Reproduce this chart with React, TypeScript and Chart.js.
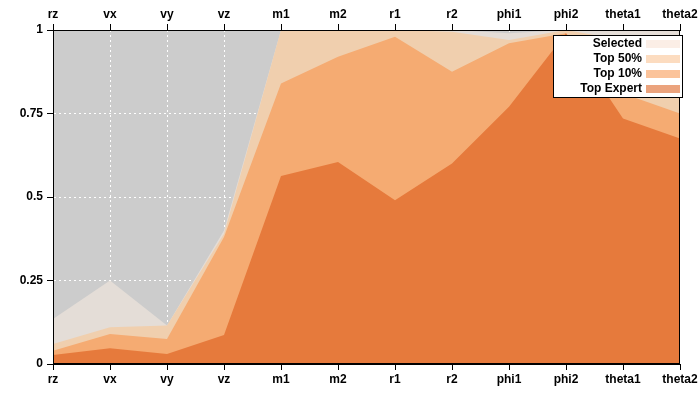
import { useEffect, useRef } from "react";
import { Chart, registerables } from "chart.js";

Chart.register(...registerables);

const categories = ["rz", "vx", "vy", "vz", "m1", "m2", "r1", "r2", "phi1", "phi2", "theta1", "theta2"];
const selected = [0.135, 0.25, 0.115, 0.4, 1, 1, 1, 1, 0.99, 1, 1, 1];
const top50 = [0.06, 0.11, 0.115, 0.39, 1, 1, 1, 0.995, 0.97, 1, 0.97, 0.94];
const top10 = [0.04, 0.09, 0.075, 0.38, 0.84, 0.92, 0.98, 0.875, 0.96, 0.99, 0.81, 0.75];
const topExpert = [0.027, 0.047, 0.03, 0.087, 0.563, 0.605, 0.49, 0.6, 0.77, 0.99, 0.735, 0.675];
const yTicks = [0, 0.25, 0.5, 0.75, 1];

const FONT = "Liberation Sans, Arial, sans-serif";

const legendItems = [
  { label: "Selected", color: "#fbeee6" },
  { label: "Top 50%", color: "#fcdcc0" },
  { label: "Top 10%", color: "#fbc39a" },
  { label: "Top Expert", color: "#eba37d" },
];

const App = () => {
  const chartRef = useRef<HTMLCanvasElement | null>(null);

  useEffect(() => {
    const ctx = chartRef.current?.getContext("2d");
    if (!ctx) return;

    const area = (label: string, data: number[], color: string) => ({
      label,
      data,
      backgroundColor: color,
      borderWidth: 0,
      pointRadius: 0,
      fill: "origin" as const,
      tension: 0,
    });

    // lower index is drawn on top, so the front-most area goes first
    const chart = new Chart(ctx, {
      type: "line",
      data: {
        labels: categories,
        datasets: [
          area("Top Expert", topExpert, "#e67a3c"),
          area("Top 10%", top10, "#f5ab72"),
          area("Top 50%", top50, "#f0cfae"),
          area("Selected", selected, "#e4ddd7"),
        ],
      },
      options: {
        animation: false,
        responsive: false,
        layout: { padding: { left: 0, right: 20, top: 0, bottom: 0 } },
        plugins: { legend: { display: false }, tooltip: { enabled: false } },
        scales: {
          x: {
            offset: false,
            grid: { color: "#ffffff", lineWidth: 1, tickColor: "#000", tickLength: 6 },
            border: { dash: [2, 3], color: "#000", width: 1 },
            ticks: { color: "#000", font: { family: FONT, weight: "bold", size: 12 }, maxRotation: 0, padding: 2 },
            afterFit: (s: any) => { s.height = 36; },
          },
          x2: {
            position: "top",
            offset: false,
            labels: categories,
            grid: { color: "rgba(0,0,0,0)", tickColor: "#000", tickLength: 6, drawOnChartArea: false },
            border: { color: "#000", width: 1 },
            ticks: { color: "#000", font: { family: FONT, weight: "bold", size: 12 }, maxRotation: 0, padding: 2 },
            afterFit: (s: any) => { s.height = 30; },
          },
          y: {
            min: 0,
            max: 1,
            afterBuildTicks: (s: any) => { s.ticks = yTicks.map((v) => ({ value: v })); },
            grid: { color: "#ffffff", tickColor: "#000", tickLength: 6 },
            border: { dash: [2, 3], color: "#000", width: 1 },
            ticks: {
              color: "#000",
              font: { family: FONT, weight: "bold", size: 12 },
              padding: 4,
              callback: (v: any) => String(v),
            },
            afterFit: (s: any) => { s.width = 53; },
          },
        },
      },
      plugins: [
        {
          id: "bgAndLegend",
          beforeDraw: (c: any) => {
            const { ctx, chartArea: a } = c;
            ctx.save();
            ctx.fillStyle = "#cccccc";
            ctx.fillRect(a.left, a.top, a.right - a.left, a.bottom - a.top);
            ctx.restore();
          },
          afterDraw: (c: any) => {
            const { ctx, chartArea: a } = c;
            ctx.save();
            ctx.strokeStyle = "#000";
            ctx.lineWidth = 1;
            ctx.strokeRect(a.left + 0.5, a.top + 0.5, a.right - a.left - 1, a.bottom - a.top - 1);
            const bx = 553, by = 35, bw = 129, bh = 62;
            ctx.fillStyle = "#fff";
            ctx.fillRect(bx, by, bw, bh);
            ctx.strokeRect(bx + 0.5, by + 0.5, bw, bh);
            ctx.font = `bold 12px ${FONT}`;
            ctx.textAlign = "right";
            ctx.textBaseline = "middle";
            legendItems.forEach((it, i) => {
              const y = by + 9 + i * 15;
              ctx.fillStyle = "#000";
              ctx.fillText(it.label, bx + 89, y);
              ctx.fillStyle = it.color;
              ctx.fillRect(bx + 93, y - 4, 34, 8);
            });
            ctx.restore();
          },
        },
      ],
    });

    return () => {
      chart.destroy();
    };
  }, []);

  return <canvas ref={chartRef} width={700} height={400} style={{ position: "absolute", left: 0, top: 0 }} />;
};

export default App;
